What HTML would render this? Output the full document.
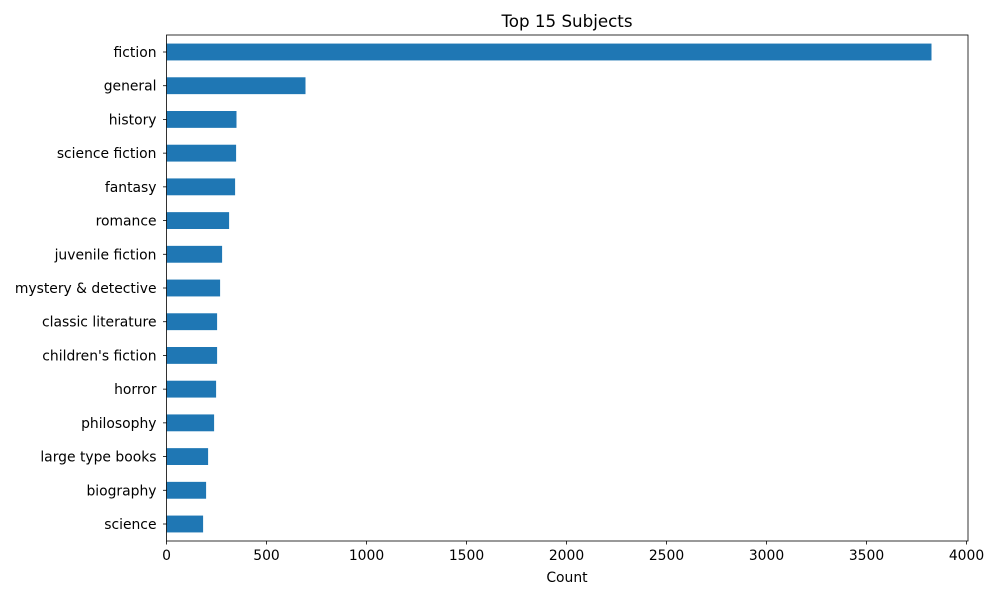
<!DOCTYPE html>
<html><head><meta charset="utf-8"><style>
body{margin:0;background:#fff;font-family:"DejaVu Sans",sans-serif}
</style></head><body>
<svg id="chart" width="1000" height="600" xmlns="http://www.w3.org/2000/svg" font-family="DejaVu Sans, sans-serif">
<text x="567" y="27" text-anchor="middle" font-size="16.7">Top 15 Subjects</text>
<text x="567" y="582" text-anchor="middle" font-size="13.9">Count</text>
<g id="bars"></g><g id="axes"></g>
</svg>
<script>
const categories=["fiction","general","history","science fiction","fantasy","romance","juvenile fiction","mystery & detective","classic literature","children's fiction","horror","philosophy","large type books","biography","science"];
const values=[3825,695,350,348,343,313,278,268,253,253,248,238,208,198,183];
const xTicks=[0,500,1000,1500,2000,2500,3000,3500,4000];
const L=166.5,R=968,T=35,B=541,xMax=(R-L)/0.2;
const x=v=>L+v/xMax*(R-L);
const step=(524-52)/14;
const y=i=>52+i*step;
const NS="http://www.w3.org/2000/svg";
const bars=document.getElementById('bars'),axes=document.getElementById('axes');
function mk(tag,attrs,parent){const e=document.createElementNS(NS,tag);for(const k in attrs)e.setAttribute(k,attrs[k]);parent.appendChild(e);return e;}
categories.forEach((c,i)=>{
 const r=mk('rect',{x:x(0),y:y(i)-step/4,width:x(values[i])-x(0),height:step/2,fill:'#1f77b4'},bars);
 
 
 mk('line',{x1:L-3.5,x2:L,y1:y(i),y2:y(i),stroke:'#000','stroke-width':0.8},axes);
 const t=mk('text',{x:L-10,y:y(i)+5,'text-anchor':'end','font-size':13.9},axes);
 t.textContent=c;
 
 
});
xTicks.forEach(v=>{
 mk('line',{x1:x(v),x2:x(v),y1:B,y2:B+3.5,stroke:'#000','stroke-width':0.8},axes);
 const t=mk('text',{x:x(v),y:B+19,'text-anchor':'middle','font-size':13.9},axes);
 t.textContent=v;
 
 
});
const f=mk('rect',{x:L,y:T,width:R-L,height:B-T,fill:'none',stroke:'#000','stroke-width':0.8},axes);


</script>
</body></html>
